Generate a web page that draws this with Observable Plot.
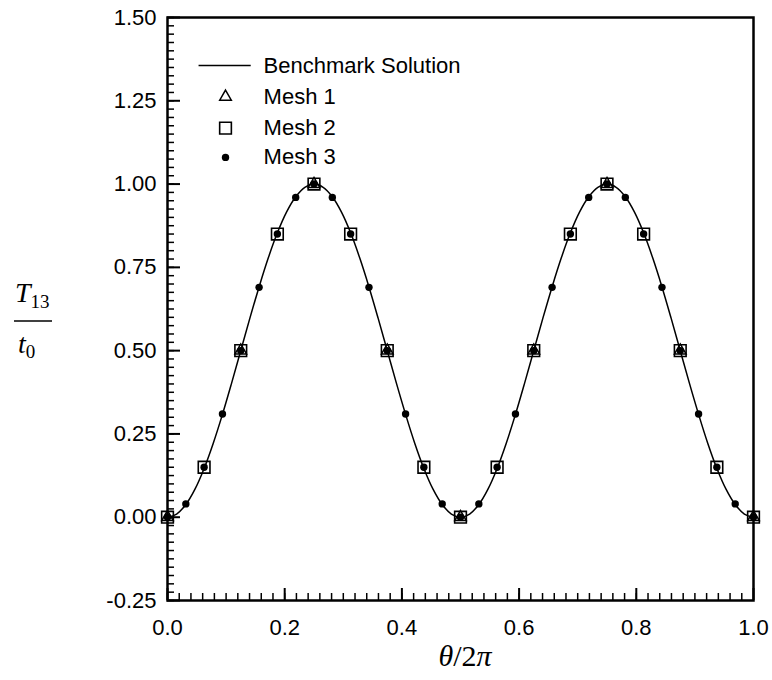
<!DOCTYPE html>
<html>
<head>
<meta charset="utf-8">
<script src="https://cdn.jsdelivr.net/npm/d3@7"></script>
<script src="https://cdn.jsdelivr.net/npm/@observablehq/plot@0.6"></script>
<style>
  html, body { margin: 0; padding: 0; background: #fff; }
  #chart { width: 772px; height: 680px; }
</style>
</head>
<body>
<div id="chart"></div>
<script>
// ---- Data ----
const benchX = [0,0.0156,0.0313,0.0469,0.0625,0.0781,0.0938,0.1094,0.125,0.1406,0.1563,0.1719,0.1875,0.2031,0.2188,0.2344,0.25,0.2656,0.2813,0.2969,0.3125,0.3281,0.3438,0.3594,0.375,0.3906,0.4063,0.4219,0.4375,0.4531,0.4688,0.4844,0.5,0.5156,0.5313,0.5469,0.5625,0.5781,0.5938,0.6094,0.625,0.6406,0.6563,0.6719,0.6875,0.7031,0.7188,0.7344,0.75,0.7656,0.7813,0.7969,0.8125,0.8281,0.8438,0.8594,0.875,0.8906,0.9063,0.9219,0.9375,0.9531,0.9688,0.9844,1];
const benchY = [0,0.0096,0.0381,0.0843,0.1464,0.2222,0.3087,0.4025,0.5,0.5975,0.6913,0.7778,0.8536,0.9157,0.9619,0.9904,1,0.9904,0.9619,0.9157,0.8536,0.7778,0.6913,0.5975,0.5,0.4025,0.3087,0.2222,0.1464,0.0843,0.0381,0.0096,0,0.0096,0.0381,0.0843,0.1464,0.2222,0.3087,0.4025,0.5,0.5975,0.6913,0.7778,0.8536,0.9157,0.9619,0.9904,1,0.9904,0.9619,0.9157,0.8536,0.7778,0.6913,0.5975,0.5,0.4025,0.3087,0.2222,0.1464,0.0843,0.0381,0.0096,0];

const mesh1X = [0,0.125,0.25,0.375,0.5,0.625,0.75,0.875,1];
const mesh1Y = [0,0.5,1,0.5,0,0.5,1,0.5,0];

const mesh2X = [0,0.0625,0.125,0.1875,0.25,0.3125,0.375,0.4375,0.5,0.5625,0.625,0.6875,0.75,0.8125,0.875,0.9375,1];
const mesh2Y = [0,0.15,0.5,0.85,1,0.85,0.5,0.15,0,0.15,0.5,0.85,1,0.85,0.5,0.15,0];

const mesh3X = [0,0.0313,0.0625,0.0938,0.125,0.1563,0.1875,0.2188,0.25,0.2813,0.3125,0.3438,0.375,0.4063,0.4375,0.4688,0.5,0.5313,0.5625,0.5938,0.625,0.6563,0.6875,0.7188,0.75,0.7813,0.8125,0.8438,0.875,0.9063,0.9375,0.9688,1];
const mesh3Y = [0,0.04,0.15,0.31,0.5,0.69,0.85,0.96,1,0.96,0.85,0.69,0.5,0.31,0.15,0.04,0,0.04,0.15,0.31,0.5,0.69,0.85,0.96,1,0.96,0.85,0.69,0.5,0.31,0.15,0.04,0];

const xTickValues = [0, 0.2, 0.4, 0.6, 0.8, 1.0];
const xTickLabels = ["0.0", "0.2", "0.4", "0.6", "0.8", "1.0"];
const yTickValues = [-0.25, 0, 0.25, 0.5, 0.75, 1.0, 1.25, 1.5];
const yTickLabels = ["-0.25", "0.00", "0.25", "0.50", "0.75", "1.00", "1.25", "1.50"];

const seriesNames = ["Benchmark Solution", "Mesh 1", "Mesh 2", "Mesh 3"];

// ---- Layout ----
const W = 772, H = 680;
const mL = 167, mR = 19, mT = 17, mB = 80;
const frameW = W - mL - mR, frameH = H - mT - mB;
const font = "'Liberation Sans', Arial, Helvetica, sans-serif";
const fs = 22;

const bench = benchX.map((x, i) => ({x, y: benchY[i]}));
const m1 = mesh1X.map((x, i) => ({x, y: mesh1Y[i]}));
const m2 = mesh2X.map((x, i) => ({x, y: mesh2Y[i]}));
const m3 = mesh3X.map((x, i) => ({x, y: mesh3Y[i]}));

const xMinor = d3.range(0, 50).map(i => i * 0.02).filter(v => v <= 1.0001);
const yMinor = d3.range(0, 71).map(i => -0.25 + i * 0.025).filter(v => v <= 1.5001);

// legend geometry (in data units)
const lgSymX = 0.099, lgLineX1 = 0.053, lgLineX2 = 0.142, lgTextX = 0.164;
const lgY = [1.356, 1.262, 1.168, 1.08];

const plot = Plot.plot({
  width: W, height: H,
  marginLeft: mL, marginRight: mR, marginTop: mT, marginBottom: mB,
  style: {fontFamily: font, fontSize: fs + "px", background: "white", color: "black", overflow: "visible"},
  x: {domain: [0, 1], label: null},
  y: {domain: [-0.25, 1.5], label: null},
  marks: [
    // ticks (inward)
    Plot.ruleX(xMinor, {x: d => d, insetTop: frameH - 7, stroke: "black", strokeWidth: 1.5}),
    Plot.ruleX(xTickValues, {x: d => d, insetTop: frameH - 12, stroke: "black", strokeWidth: 2}),
    Plot.ruleY(yMinor, {y: d => d, insetRight: frameW - 7, stroke: "black", strokeWidth: 1.5}),
    Plot.ruleY(yTickValues, {y: d => d, insetRight: frameW - 13, stroke: "black", strokeWidth: 2}),
    Plot.axisX({ticks: xTickValues, tickFormat: (d, i) => xTickLabels[i], tickSize: 0, tickPadding: 19, fontSize: fs, label: null}),
    Plot.axisY({ticks: yTickValues, tickFormat: (d, i) => yTickLabels[i], tickSize: 0, tickPadding: 11, fontSize: fs, label: null}),
    // data
    Plot.line(bench, {x: "x", y: "y", stroke: "black", strokeWidth: 1.5, curve: "catmull-rom"}),
    Plot.dot(m1, {x: "x", y: "y", symbol: "triangle", r: 4.3, stroke: "black", strokeWidth: 1.5, fill: "none"}),
    Plot.dot(m2, {x: "x", y: "y", symbol: "square", r: 6.6, stroke: "black", strokeWidth: 1.6, fill: "none"}),
    Plot.dot(m3, {x: "x", y: "y", r: 3.7, fill: "black", stroke: "none"}),
    // legend
    Plot.link([0], {x1: lgLineX1, x2: lgLineX2, y1: lgY[0], y2: lgY[0], stroke: "black", strokeWidth: 1.5}),
    Plot.dot([0], {x: lgSymX, y: lgY[1], symbol: "triangle", r: 4.3, stroke: "black", strokeWidth: 1.5, fill: "none"}),
    Plot.dot([0], {x: lgSymX, y: lgY[2], symbol: "square", r: 6.6, stroke: "black", strokeWidth: 1.6, fill: "none"}),
    Plot.dot([0], {x: lgSymX, y: lgY[3], r: 3.7, fill: "black", stroke: "none"}),
    Plot.text(seriesNames, {x: lgTextX, y: (d, i) => lgY[i], text: d => d, textAnchor: "start", fontSize: fs, fill: "black"}),
    Plot.frame({stroke: "black", strokeWidth: 2.5})
  ]
});

document.getElementById("chart").appendChild(plot);

// axis titles (math-style serif)
const svg = d3.select(plot);
const serif = "'Liberation Serif', 'Times New Roman', Times, serif";
const yl = svg.append("g").attr("font-family", serif).attr("fill", "black").attr("text-anchor", "start");
const t1 = yl.append("text").attr("x", 15).attr("y", 302).attr("font-size", 28);
t1.append("tspan").attr("font-style", "italic").text("T");
t1.append("tspan").attr("font-size", 19).attr("dy", 6).text("13");
yl.append("line").attr("x1", 14).attr("x2", 52).attr("y1", 321).attr("y2", 321).attr("stroke", "black").attr("stroke-width", 1.4);
const t2 = yl.append("text").attr("x", 18).attr("y", 353).attr("font-size", 28);
t2.append("tspan").attr("font-style", "italic").text("t");
t2.append("tspan").attr("font-size", 19).attr("dy", 5).text("0");

const xl = svg.append("text").attr("font-family", serif).attr("fill", "black")
  .attr("x", 465).attr("y", 666).attr("text-anchor", "middle").attr("font-size", 30);
xl.append("tspan").attr("font-style", "italic").text("θ");
xl.append("tspan").text("/2");
xl.append("tspan").attr("font-style", "italic").text("π");
</script>
</body>
</html>
